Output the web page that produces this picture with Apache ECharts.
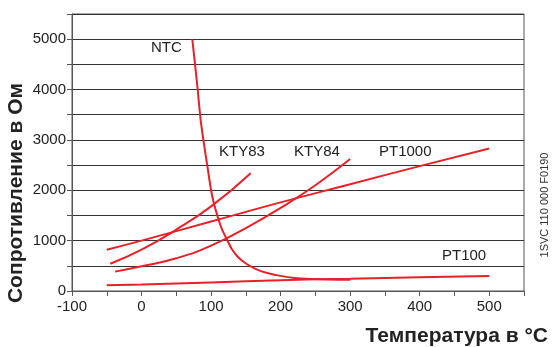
<!DOCTYPE html>
<html>
<head>
<meta charset="utf-8">
<script src="https://cdn.jsdelivr.net/npm/echarts@6/dist/echarts.min.js"></script>
<style>
  html, body { margin: 0; padding: 0; background: #fff; }
  #chart { width: 555px; height: 347px; }
</style>
</head>
<body>
<div id="chart"></div>
<script>
// данные (температура °C -> сопротивление Ом)
var ntcTemp = [73, 80, 85, 90, 95, 100, 104, 110, 115, 123, 130, 138, 147, 157, 168, 181, 200, 220, 245, 268, 300];
var ntcOhm = [5000, 4100, 3400, 2900, 2450, 2000, 1740, 1450, 1250, 1015, 830, 686, 575, 489, 415, 359, 300, 260, 238, 227, 222];
var kty83Temp = [-45, 0, 50, 100, 157];
var kty83Ohm = [540, 820, 1220, 1680, 2340];
var kty84Temp = [-38, 0, 50, 100, 150, 200, 250, 300];
var kty84Ohm = [385, 490, 650, 900, 1250, 1650, 2100, 2620];
var pt1000Temp = [-50, 0, 100, 200, 300, 400, 500];
var pt1000Ohm = [820, 1000, 1380, 1760, 2120, 2480, 2830];
var pt100Temp = [-50, 0, 100, 200, 300, 400, 500];
var pt100Ohm = [115, 130, 170, 215, 245, 275, 300];
var xTicks = [-100, 0, 100, 200, 300, 400, 500];
var yTicks = [0, 1000, 2000, 3000, 4000, 5000];

function pairs(xs, ys) {
    return xs.map(function (x, i) { return [x, ys[i]]; });
}

var RED = '#e8202a';
var TXT = '#222';
var FONT = 'Liberation Sans, Arial, sans-serif';

function curve(name, xs, ys, smooth) {
    return {
        name: name,
        type: 'line',
        data: pairs(xs, ys),
        smooth: smooth,
        showSymbol: false,
        lineStyle: { color: RED, width: 2 },
        silent: true
    };
}

function label(text, left, top) {
    return { type: 'text', left: left, top: top, style: { text: text, fontSize: 15, fill: TXT, fontFamily: FONT } };
}

var myChart = echarts.init(document.getElementById('chart'));
var option = {
    animation: false,
    textStyle: { fontFamily: FONT },
    grid: { left: 72, right: 31, top: 14, bottom: 56, show: true, borderColor: '#555', borderWidth: 1 },
    xAxis: {
        type: 'value',
        min: -100, max: 550, interval: 50,
        axisLine: { onZero: false, lineStyle: { color: '#555', width: 1 } },
        axisTick: { show: true, length: 5, lineStyle: { color: '#555' } },
        splitLine: { show: false },
        axisLabel: {
            color: TXT, fontSize: 15, margin: 8,
            formatter: function (v) { return xTicks.indexOf(v) >= 0 ? String(v) : ''; }
        }
    },
    yAxis: {
        type: 'value',
        min: 0, max: 5500, interval: 500,
        axisLine: { show: true, onZero: false, lineStyle: { color: '#555', width: 1 } },
        axisTick: { show: true, length: 5, lineStyle: { color: '#555' } },
        splitLine: { lineStyle: { color: '#333', width: 1 } },
        axisLabel: {
            color: TXT, fontSize: 15, margin: 6,
            formatter: function (v) { return yTicks.indexOf(v) >= 0 ? String(v) : ''; }
        }
    },
    series: [
        curve('NTC', ntcTemp, ntcOhm, 0.3),
        curve('KTY83', kty83Temp, kty83Ohm, true),
        curve('KTY84', kty84Temp, kty84Ohm, true),
        curve('PT1000', pt1000Temp, pt1000Ohm, true),
        curve('PT100', pt100Temp, pt100Ohm, true)
    ],
    graphic: [
        label('NTC', 151, 40),
        label('KTY83', 219, 144),
        label('KTY84', 294, 144),
        label('PT1000', 379, 144),
        label('PT100', 442, 248),
        {
            type: 'text', x: 16, y: 193, rotation: Math.PI / 2,
            style: { text: 'Сопротивление в Ом', fontSize: 21, fontWeight: 'bold', fill: TXT, align: 'center', verticalAlign: 'middle', fontFamily: FONT }
        },
        {
            type: 'text', x: 548, y: 336,
            style: { text: 'Температура в °C', fontSize: 21, fontWeight: 'bold', fill: TXT, align: 'right', verticalAlign: 'middle', fontFamily: FONT }
        },
        {
            type: 'text', x: 545, y: 205, rotation: Math.PI / 2,
            style: { text: '1SVC 110 000 F0190', fontSize: 11, fill: '#333', align: 'center', verticalAlign: 'middle', fontFamily: FONT }
        }
    ]
};
myChart.setOption(option, true);
</script>
</body>
</html>
